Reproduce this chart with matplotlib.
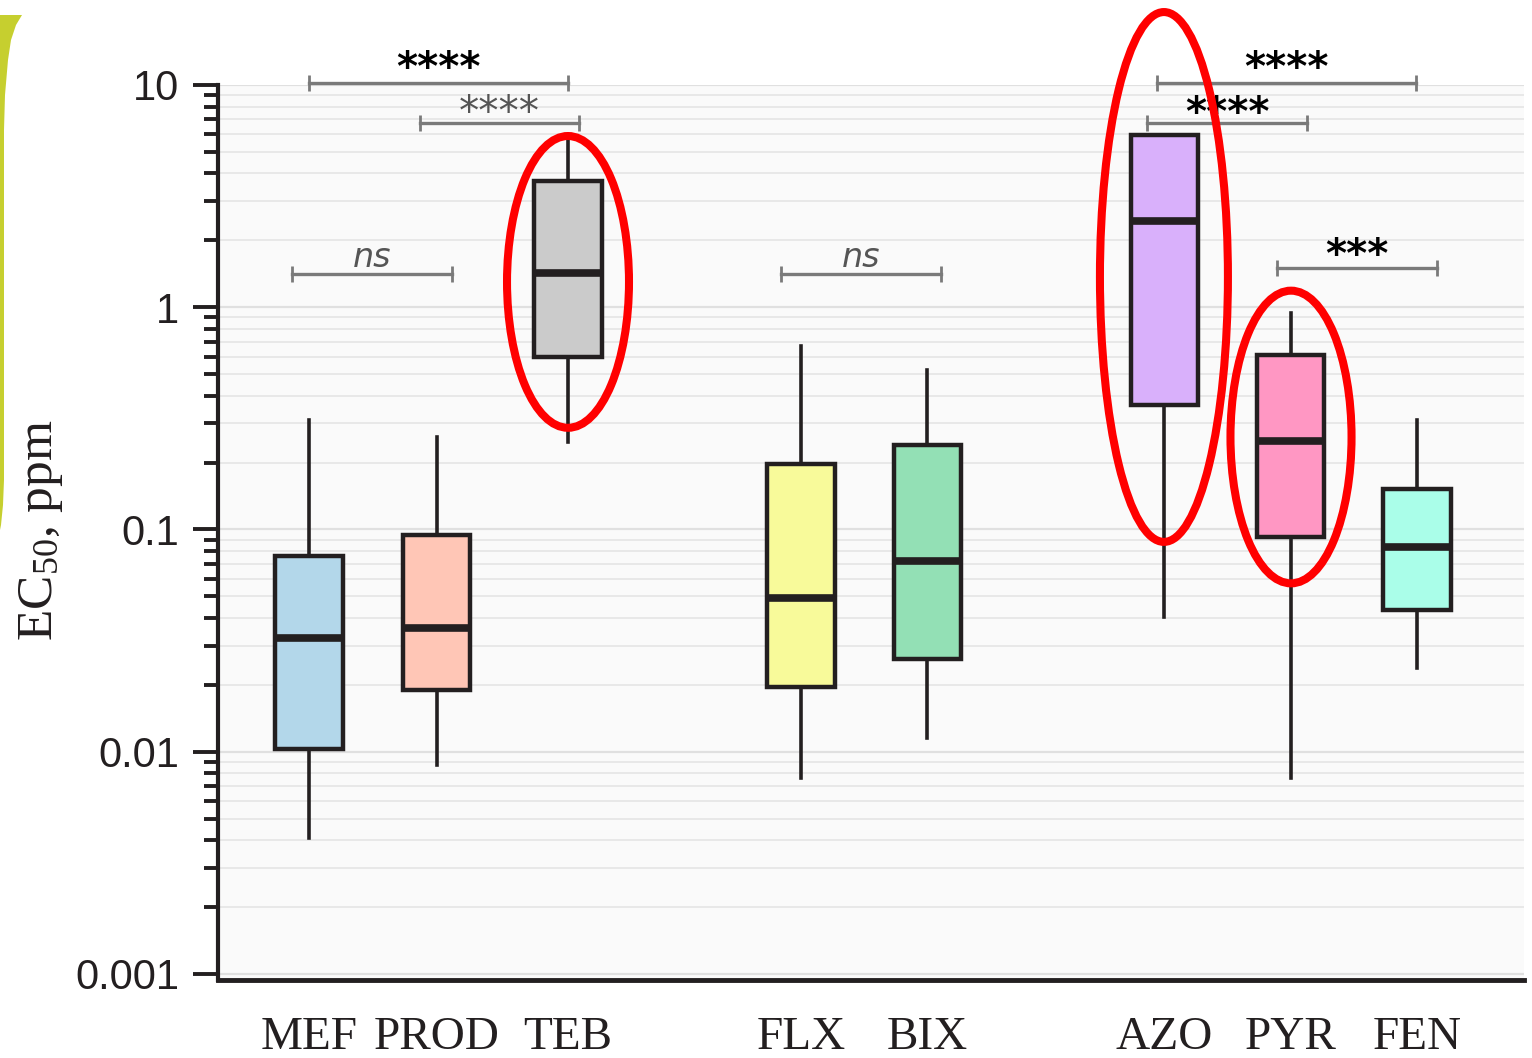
import matplotlib
matplotlib.use("Agg")
import matplotlib.pyplot as plt
from matplotlib.patches import Ellipse, Polygon
from matplotlib.ticker import LogLocator, NullFormatter, FixedLocator, FixedFormatter

# EC50 summary per fungicide (ppm)
drugs = ['MEF', 'PROD', 'TEB', 'FLX', 'BIX', 'AZO', 'PYR', 'FEN']
whislo = [0.0041, 0.0087, 0.248, 0.0076, 0.0115, 0.0404, 0.0076, 0.0238]
q1 = [0.0103, 0.0190, 0.597, 0.0196, 0.0261, 0.363, 0.0925, 0.0434]
med = [0.0325, 0.0361, 1.43, 0.0492, 0.0722, 2.44, 0.251, 0.0834]
q3 = [0.076, 0.0945, 3.70, 0.197, 0.240, 5.96, 0.61, 0.152]
whishi = [0.311, 0.261, 5.78, 0.670, 0.522, 5.96, 0.942, 0.311]
colors = ['#b3d7ea', '#ffc6b6', '#cbcbcb', '#f8fa9a',
          '#93e0b5', '#d9b0fb', '#ff97c3', '#aafee9']

# group layout along x
positions = [1, 2, 3.03, 4.86, 5.85, 7.71, 8.70, 9.69]

# significance brackets: x1, x2, y, label
brackets = [
    (1.00, 3.03, 10.2, '****'),
    (1.87, 3.12, 6.75, '****'),
    (0.87, 2.12, 1.41, 'ns'),
    (4.70, 5.96, 1.41, 'ns'),
    (7.65, 9.68, 10.2, '****'),
    (7.57, 8.83, 6.75, '****'),
    (8.59, 9.85, 1.50, '***'),
]
bracket_style = [
    dict(color='black', weight='bold', dy=2.5),
    dict(color='#555555', weight='normal', dy=-1.5),
    dict(color='#555555', weight='normal', style='italic', dy=5),
    dict(color='#555555', weight='normal', style='italic', dy=5),
    dict(color='black', weight='bold', dy=2.5),
    dict(color='black', weight='bold', dy=-1.5),
    dict(color='black', weight='bold', dy=1.0),
]

ink = '#231f20'

fig = plt.figure(figsize=(15.32, 10.58), dpi=100)
ax = fig.add_axes((218 / 1532, 78 / 1058, 1306 / 1532, 895 / 1058))
ax.set_facecolor('#fafafa')

stats = []
for i, name in enumerate(drugs):
    stats.append(dict(label=name, whislo=whislo[i], q1=q1[i], med=med[i],
                      q3=q3[i], whishi=whishi[i], fliers=[]))

bp = ax.bxp(stats, positions=positions, widths=0.53, patch_artist=True,
            showcaps=False, showfliers=False,
            boxprops=dict(linewidth=3.2, edgecolor=ink),
            medianprops=dict(color=ink, linewidth=5.5, solid_capstyle='butt'),
            whiskerprops=dict(color=ink, linewidth=2.6))
for patch, c in zip(bp['boxes'], colors):
    patch.set_facecolor(c)

ax.set_yscale('log')
ax.set_ylim(10 ** -3.027, 10)
ax.set_xlim(0.286, 10.53)

ax.yaxis.set_major_locator(FixedLocator([0.001, 0.01, 0.1, 1, 10]))
ax.yaxis.set_major_formatter(FixedFormatter(['0.001', '0.01', '0.1', '1', '10']))
ax.yaxis.set_minor_locator(LogLocator(base=10, subs=range(2, 10)))
ax.yaxis.set_minor_formatter(NullFormatter())

ax.grid(True, which='major', axis='y', color='#e0e0e0', linewidth=1.6)
ax.grid(True, which='minor', axis='y', color='#e8e8e8', linewidth=1.4)
ax.set_axisbelow(True)

for side in ['top', 'right']:
    ax.spines[side].set_visible(False)
ax.spines['left'].set_linewidth(3)
ax.spines['bottom'].set_linewidth(3.5)
ax.spines['left'].set_color(ink)
ax.spines['bottom'].set_color(ink)

ax.tick_params(axis='y', which='major', length=18, width=2.8, color=ink,
               pad=10, labelsize=30, labelcolor=ink)
ax.tick_params(axis='y', which='minor', length=10, width=2.8, color=ink)
for t in ax.get_yticklabels():
    t.set_fontfamily('Liberation Sans')

ax.set_xticks(positions)
ax.set_xticklabels(drugs, fontfamily='Liberation Serif', fontsize=34, color=ink)
ax.tick_params(axis='x', length=0, pad=26)

ax.set_ylabel(r'EC$\mathregular{_{50}}$, ppm', fontfamily='Liberation Serif',
              fontsize=37, color=ink)
ax.yaxis.set_label_coords(-0.117, 0.503)

# significance brackets
for (x1, x2, y, lab), st in zip(brackets, bracket_style):
    ax.plot([x1, x2], [y, y], color='#7a7a7a', linewidth=2.4, marker='|',
            markersize=11, markeredgewidth=2, clip_on=False, zorder=5)
    size = 24 if lab == 'ns' else 29
    ax.annotate(lab, ((x1 + x2) / 2, y), xytext=(0, st['dy']),
                textcoords='offset points', ha='center', va='baseline',
                fontsize=size, color=st['color'], fontweight=st['weight'],
                fontstyle=st.get('style', 'normal'), fontfamily='DejaVu Sans',
                annotation_clip=False, zorder=6)

# highlight rings
rings = [(0.268, 0.780, 0.0934, 0.326),
         (0.7243, 0.7855, 0.098, 0.592),
         (0.8216, 0.6067, 0.0927, 0.327)]
for cx, cy, w, h in rings:
    ax.add_patch(Ellipse((cx, cy), w, h, transform=ax.transAxes, fill=False,
                         edgecolor='#ff0000', linewidth=5.8, clip_on=False,
                         zorder=7))

# edge of the neighbouring panel
edge_px = [(0, 15), (22, 15), (16, 25), (11, 40), (8, 60), (5, 95), (4, 130),
           (4, 480), (3, 505), (1, 525), (0, 530)]
edge = [(x / 1532, 1 - y / 1058) for x, y in edge_px]
fig.add_artist(Polygon(edge, closed=True, transform=fig.transFigure,
                       facecolor='#c6cf2f', edgecolor='none'))

fig.savefig('out.png', dpi=100)
